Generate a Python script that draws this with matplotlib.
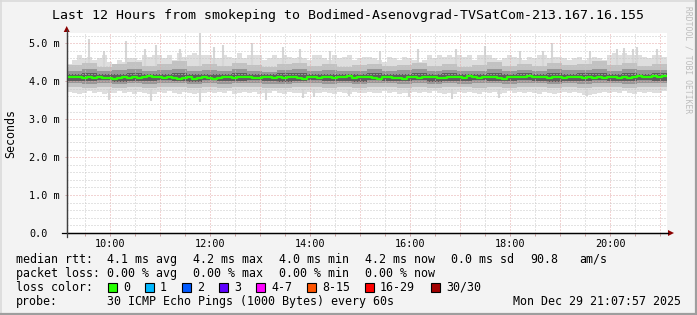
import numpy as np
import matplotlib
matplotlib.use("Agg")
import matplotlib.pyplot as plt
from matplotlib.patches import Rectangle, Polygon
from matplotlib.lines import Line2D
from matplotlib.ticker import MultipleLocator, FixedLocator, FuncFormatter

# ---------------- data (ms) ----------------
# 6-minute bins, 12 hours ending Mon Dec 29 21:07:57 2025
median_ms = [
    4.12, 4.10, 4.11, 4.09, 4.10, 4.09, 4.10, 4.08, 4.09, 4.07, 4.08, 4.10, 4.09, 4.10, 4.08,
    4.11, 4.14, 4.12, 4.10, 4.09, 4.11, 4.08, 4.06, 4.09, 4.10, 4.07, 4.08, 4.12, 4.09, 4.07,
    4.09, 4.12, 4.11, 4.09, 4.10, 4.11, 4.10, 4.08, 4.09, 4.12, 4.10, 4.09, 4.11, 4.08, 4.10,
    4.12, 4.09, 4.07, 4.10, 4.11, 4.09, 4.12, 4.10, 4.08, 4.11, 4.10, 4.13, 4.09, 4.11, 4.10,
    4.11, 4.09, 4.07, 4.10, 4.12, 4.08, 4.09, 4.06, 4.10, 4.11, 4.09, 4.12, 4.10, 4.11, 4.09,
    4.08, 4.10, 4.12, 4.11, 4.09, 4.13, 4.10, 4.08, 4.11, 4.10, 4.12, 4.09, 4.07, 4.11, 4.12,
    4.10, 4.12, 4.13, 4.11, 4.10, 4.12, 4.09, 4.11, 4.10, 4.08, 4.10, 4.12, 4.11, 4.09, 4.10,
    4.08, 4.11, 4.09, 4.12, 4.10, 4.08, 4.11, 4.09, 4.12, 4.13, 4.10, 4.12, 4.14, 4.12, 4.13,
]
max_ms = [
    4.45, 4.55, 4.70, 4.60, 4.65, 4.55, 4.60, 4.70, 4.50, 4.45, 4.55, 4.50, 4.60, 4.60, 4.55,
    4.70, 4.65, 4.70, 4.70, 4.60, 4.70, 4.55, 4.75, 4.65, 4.70, 4.75, 4.70, 4.70, 4.70, 4.60,
    4.60, 4.70, 4.65, 4.60, 4.75, 4.60, 4.70, 4.70, 4.70, 4.55, 4.60, 4.70, 4.60, 4.70, 4.65,
    4.60, 4.65, 4.60, 4.55, 4.70, 4.70, 4.60, 4.55, 4.70, 4.60, 4.65, 4.70, 4.55, 4.60, 4.65,
    4.65, 4.60, 4.55, 4.50, 4.65, 4.60, 4.55, 4.65, 4.60, 4.55, 4.50, 4.55, 4.70, 4.60, 4.70,
    4.65, 4.70, 4.65, 4.70, 4.65, 4.70, 4.55, 4.70, 4.70, 4.70, 4.60, 4.55, 4.60, 4.70, 4.65,
    4.60, 4.55, 4.65, 4.60, 4.70, 4.70, 4.60, 4.65, 4.65, 4.60, 4.55, 4.60, 4.65, 4.55, 4.60,
    4.65, 4.60, 4.55, 4.70, 4.75, 4.70, 4.75, 4.70, 4.70, 4.70, 4.65, 4.60, 4.70, 4.70, 4.65,
]
min_ms = [
    3.72, 3.68, 3.66, 3.70, 3.74, 3.69, 3.72, 3.66, 3.68, 3.70, 3.73, 3.68, 3.71, 3.67, 3.72,
    3.70, 3.66, 3.67, 3.71, 3.69, 3.74, 3.70, 3.67, 3.72, 3.69, 3.66, 3.68, 3.70, 3.72, 3.68,
    3.71, 3.69, 3.73, 3.66, 3.70, 3.72, 3.68, 3.71, 3.65, 3.68, 3.70, 3.73, 3.69, 3.67, 3.72,
    3.70, 3.68, 3.67, 3.71, 3.68, 3.69, 3.72, 3.70, 3.67, 3.71, 3.68, 3.66, 3.72, 3.70, 3.69,
    3.72, 3.70, 3.68, 3.73, 3.69, 3.71, 3.67, 3.70, 3.68, 3.72, 3.69, 3.71, 3.68, 3.73, 3.70,
    3.66, 3.69, 3.67, 3.71, 3.68, 3.72, 3.70, 3.67, 3.71, 3.69, 3.72, 3.67, 3.70, 3.73, 3.68,
    3.71, 3.69, 3.72, 3.70, 3.67, 3.71, 3.69, 3.66, 3.70, 3.72, 3.68, 3.71, 3.69, 3.64, 3.64,
    3.65, 3.70, 3.72, 3.68, 3.71, 3.69, 3.73, 3.70, 3.67, 3.71, 3.69, 3.72, 3.70, 3.68, 3.74,
]
# single-minute outliers (hour of day, ms)
spike_up_t = [9.58, 9.88, 10.32, 10.70, 10.92, 11.40, 11.80, 12.08, 12.26, 12.84, 13.46, 13.80,
              14.40, 15.40, 16.16, 16.92, 17.50, 18.20, 18.66, 18.84, 19.60, 20.14, 20.28, 20.46,
              20.54, 20.94]
spike_up_v = [5.10, 4.80, 5.05, 4.85, 4.95, 4.85, 5.30, 4.90, 4.95, 5.00, 4.90, 4.85,
              4.80, 4.80, 4.85, 4.85, 4.92, 4.80, 4.80, 5.00, 4.80, 4.85, 4.88, 4.85,
              4.90, 4.85]
spike_dn_t = [9.98, 10.82, 11.80, 13.12, 13.86, 14.08, 14.78, 15.98, 16.84, 17.78, 19.54]
spike_dn_v = [3.50, 3.48, 3.45, 3.50, 3.55, 3.58, 3.60, 3.58, 3.52, 3.56, 3.60]
# 18-minute bins for the inner smoke layers
hi2_ms = [4.42, 4.48, 4.38, 4.45, 4.50, 4.40, 4.44, 4.52, 4.39, 4.46, 4.41, 4.47, 4.43, 4.38, 4.45,
          4.49, 4.40, 4.44, 4.37, 4.42, 4.46, 4.39, 4.43, 4.48, 4.41, 4.45, 4.38, 4.42, 4.50, 4.40,
          4.44, 4.39, 4.47, 4.42, 4.45, 4.52, 4.43, 4.48, 4.41, 4.46]
lo2_ms = [3.84, 3.82, 3.86, 3.83, 3.85, 3.81, 3.84, 3.86, 3.83, 3.85, 3.82, 3.84, 3.86, 3.83, 3.81,
          3.85, 3.84, 3.82, 3.86, 3.83, 3.85, 3.84, 3.82, 3.86, 3.83, 3.85, 3.84, 3.81, 3.85, 3.83,
          3.86, 3.84, 3.82, 3.85, 3.83, 3.86, 3.84, 3.82, 3.85, 3.84]
hi3_ms = [4.28, 4.31, 4.26, 4.29, 4.32, 4.27, 4.30, 4.33, 4.26, 4.29, 4.28, 4.31, 4.27, 4.25, 4.30,
          4.32, 4.27, 4.29, 4.26, 4.28, 4.31, 4.27, 4.29, 4.32, 4.28, 4.30, 4.26, 4.28, 4.33, 4.27,
          4.30, 4.28, 4.31, 4.29, 4.30, 4.33, 4.28, 4.31, 4.29, 4.30]
lo3_ms = [3.94, 3.93, 3.95, 3.92, 3.94, 3.93, 3.95, 3.94, 3.92, 3.95, 3.93, 3.94, 3.96, 3.93, 3.92,
          3.94, 3.95, 3.93, 3.94, 3.92, 3.95, 3.94, 3.93, 3.95, 3.92, 3.94, 3.93, 3.95, 3.94, 3.93,
          3.95, 3.94, 3.92, 3.94, 3.93, 3.95, 3.94, 3.93, 3.95, 3.94]
hi4_ms = [4.19, 4.21, 4.18, 4.20, 4.22, 4.19, 4.20, 4.22, 4.18, 4.20, 4.19, 4.21, 4.19, 4.18, 4.21,
          4.22, 4.19, 4.20, 4.18, 4.19, 4.21, 4.19, 4.20, 4.22, 4.19, 4.21, 4.18, 4.20, 4.22, 4.19,
          4.21, 4.20, 4.21, 4.20, 4.21, 4.22, 4.20, 4.21, 4.20, 4.21]
lo4_ms = [4.01, 4.00, 4.02, 3.99, 4.01, 4.00, 4.02, 4.01, 3.99, 4.02, 4.00, 4.01, 4.03, 4.00, 3.99,
          4.01, 4.02, 4.00, 4.01, 3.99, 4.02, 4.01, 4.00, 4.02, 3.99, 4.01, 4.00, 4.02, 4.01, 4.00,
          4.02, 4.01, 3.99, 4.01, 4.00, 4.02, 4.01, 4.00, 4.02, 4.01]

ytick_vals = [0, 1, 2, 3, 4, 5]
ytick_labels = ["0.0", "1.0 m", "2.0 m", "3.0 m", "4.0 m", "5.0 m"]
xtick_hours = [10, 11, 12, 13, 14, 15, 16, 17, 18, 19, 20, 21]

title = "Last 12 Hours from smokeping to Bodimed-Asenovgrad-TVSatCom-213.167.16.155"
loss_labels = ["0", "1", "2", "3", "4-7", "8-15", "16-29", "30/30"]
loss_colors = ["#26ff00", "#00b8ff", "#0059ff", "#5e00ff", "#ff00ff", "#ff5500", "#ff0000", "#a10000"]

# ---------------- figure ----------------
W, H = 697, 315
MONO = "DejaVu Sans Mono"
fig = plt.figure(figsize=(W / 100, H / 100), dpi=100, facecolor="#F3F3F3")


def fx(x):
    return x / W


def fy(y):
    return 1 - y / H


AX_L, AX_R, AX_T, AX_B = 66.7, 666.7, 33, 233
ax = fig.add_axes([fx(AX_L), fy(AX_B), (AX_R - AX_L) / W, (AX_B - AX_T) / H])
ax.set_facecolor("white")

t0 = 9 + 7 / 60 + 57 / 3600
fine = 0.1
coarse = 0.3
tf = t0 + fine * np.arange(len(median_ms) + 1)
tc = t0 + coarse * np.arange(len(hi2_ms) + 1)


def ext(a):
    a = list(a)
    return np.array(a + [a[-1]])


ax.fill_between(tf, ext(min_ms), ext(max_ms), step="post", color="#DEDEDE", lw=0, zorder=1)
ax.vlines(spike_up_t, 4.4, spike_up_v, color="#D6D6D6", lw=1.5, zorder=1.05)
ax.vlines(spike_dn_t, 3.8, spike_dn_v, color="#D6D6D6", lw=1.5, zorder=1.05)
ax.fill_between(tc, ext(lo2_ms), ext(hi2_ms), step="post", color="#C2C2C2", lw=0, zorder=1.1)
ax.fill_between(tc, ext(lo3_ms), ext(hi3_ms), step="post", color="#979797", lw=0, zorder=1.2)
ax.fill_between(tc, ext(lo4_ms), ext(hi4_ms), step="post", color="#5E5E5E", lw=0, zorder=1.3)
ax.step(tf, ext(median_ms), where="post", color=loss_colors[0], lw=1.6, zorder=3)

ax.set_xlim(t0, t0 + 12)
ax.set_ylim(0, 5.27)

# grid
ax.set_axisbelow(False)
ax.xaxis.set_major_locator(FixedLocator(xtick_hours))
ax.xaxis.set_minor_locator(MultipleLocator(0.5))
ax.xaxis.set_major_formatter(FuncFormatter(lambda v, p: "%02d:00" % int(round(v)) if int(round(v)) % 2 == 0 else ""))
ax.yaxis.set_major_locator(FixedLocator(ytick_vals))
ax.yaxis.set_minor_locator(MultipleLocator(0.2))
ax.set_yticklabels(ytick_labels, family=MONO, fontsize=7.3, ha="left")
for lbl in ax.get_xticklabels():
    lbl.set_family(MONO)
ax.grid(which="major", color="#E5A8A8", lw=0.72, ls=(0, (1, 2)))
ax.grid(which="minor", color="#C8C8C8", lw=0.72, ls=(0, (1, 2)))
ax.tick_params(axis="x", which="both", direction="out", length=1.8, width=0.72, colors="#C8A0A0",
               labelcolor="black", labelsize=7.3, pad=2.4)
ax.tick_params(axis="y", which="major", direction="out", length=1.8, width=0.72, colors="#C8A0A0",
               labelcolor="black", labelsize=7.3, pad=26.4 - 1.3)
ax.tick_params(axis="y", which="minor", length=0)
for s in ["top", "right"]:
    ax.spines[s].set_visible(False)
ax.spines["bottom"].set_color("black")
ax.spines["bottom"].set_linewidth(0.9)
ax.spines["left"].set_color("#404040")
ax.spines["left"].set_linewidth(0.9)

# axis extensions and arrows
fig.add_artist(Line2D([fx(62), fx(668)], [fy(AX_B), fy(AX_B)], transform=fig.transFigure, color="black", lw=0.9))
fig.add_artist(Line2D([fx(AX_L), fx(AX_L)], [fy(237), fy(30)], transform=fig.transFigure, color="#404040", lw=0.9))
fig.add_artist(Polygon([(fx(668), fy(230)), (fx(668), fy(236)), (fx(674), fy(AX_B))],
                       closed=True, transform=fig.transFigure, color="#8B0000", lw=0))
fig.add_artist(Polygon([(fx(AX_L - 3), fy(32)), (fx(AX_L + 3), fy(32)), (fx(AX_L), fy(26))],
                       closed=True, transform=fig.transFigure, color="#8B0000", lw=0))

# texts
fig.text(fx(348), fy(19), title, family=MONO, fontsize=9.55, ha="center", va="baseline")
fig.text(fx(11), fy(133), "Seconds", family=MONO, fontsize=8.4, rotation=90, ha="center", va="center")
fig.text(fx(688), fy(60), "RRDTOOL / TOBI OETIKER", family=MONO, fontsize=5.8, rotation=270,
         ha="center", va="center", color="#BDBDBD")

LS = 8.4
rows = [263, 277, 291, 305]
row1 = [(16, "median rtt:"), (107, "4.1 ms avg"), (193, "4.2 ms max"), (279, "4.0 ms min"),
        (365, "4.2 ms now"), (451, "0.0 ms sd"), (530, "90.8"), (579, "am/s")]
row2 = [(16, "packet loss:"), (107, "0.00 % avg"), (193, "0.00 % max"), (279, "0.00 % min"),
        (365, "0.00 % now")]
for x, s in row1:
    fig.text(fx(x), fy(rows[0]), s, family=MONO, fontsize=LS, va="baseline")
for x, s in row2:
    fig.text(fx(x), fy(rows[1]), s, family=MONO, fontsize=LS, va="baseline")
fig.text(fx(16), fy(rows[2]), "loss color:", family=MONO, fontsize=LS, va="baseline")
box_x = [108, 145, 182, 219, 256, 307, 365, 431]
for bx, lab, col in zip(box_x, loss_labels, loss_colors):
    fig.add_artist(Rectangle((fx(bx), fy(291.5)), 8.5 / W, 8.5 / H, transform=fig.transFigure,
                             facecolor=col, edgecolor="black", lw=0.8))
    fig.text(fx(bx + 15), fy(rows[2]), lab, family=MONO, fontsize=LS, va="baseline")
fig.text(fx(16), fy(rows[3]), "probe:", family=MONO, fontsize=LS, va="baseline")
fig.text(fx(107), fy(rows[3]), "30 ICMP Echo Pings (1000 Bytes) every 60s", family=MONO, fontsize=LS, va="baseline")
fig.text(fx(513), fy(rows[3]), "Mon Dec 29 21:07:57 2025", family=MONO, fontsize=LS, va="baseline")

# frame
fig.add_artist(Line2D([0, 1], [fy(0.5), fy(0.5)], transform=fig.transFigure, color="#DADADA", lw=1.2))
fig.add_artist(Line2D([fx(0.5), fx(0.5)], [0, 1], transform=fig.transFigure, color="#DADADA", lw=1.2))
fig.add_artist(Line2D([0, 1], [fy(313.5), fy(313.5)], transform=fig.transFigure, color="#9E9E9E", lw=1.6))
fig.add_artist(Line2D([fx(695.5), fx(695.5)], [0, 1], transform=fig.transFigure, color="#9E9E9E", lw=1.6))

fig.savefig("out.png", dpi=100, facecolor=fig.get_facecolor())
